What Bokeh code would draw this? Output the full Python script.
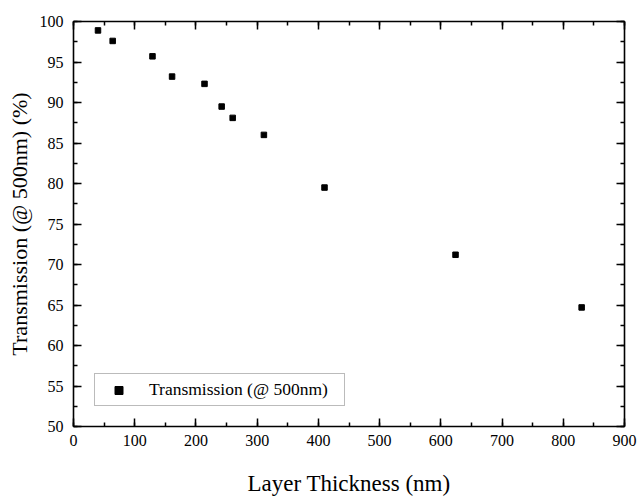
from bokeh.plotting import figure
from bokeh.models import (Range1d, LinearAxis, SingleIntervalTicker, Legend,
                          LegendItem, ColumnDataSource)
from bokeh.embed import file_html
from bokeh.resources import INLINE

# Layer thickness (nm) and optical transmission at 500 nm (%)
thickness_nm = [40, 64, 129, 161, 214, 242, 260, 311, 410, 624, 830]
transmission_pct = [98.9, 97.6, 95.7, 93.2, 92.3, 89.5, 88.1, 86.0, 79.5, 71.2, 64.7]

FONT = "Liberation Serif"

src = ColumnDataSource(dict(x=thickness_nm, y=transmission_pct))

p = figure(width=638, height=500, output_backend="svg", toolbar_location=None,
           x_range=Range1d(0, 900), y_range=Range1d(50, 100),
           min_border_left=73, min_border_right=14, min_border_top=21,
           min_border_bottom=74, x_axis_type=None, y_axis_type=None)
p.xgrid.visible = False
p.ygrid.visible = False
p.outline_line_color = None
p.background_fill_color = "white"
p.border_fill_color = "white"


def style_axis(ax, labels=True):
    ax.axis_line_width = 1.6
    ax.axis_line_color = "black"
    ax.major_tick_in = 8
    ax.major_tick_out = 0
    ax.minor_tick_in = 4
    ax.minor_tick_out = 0
    ax.major_tick_line_width = 1.5
    ax.minor_tick_line_width = 1.5
    ax.major_label_text_font = FONT
    ax.major_label_text_font_size = "16px"
    ax.major_label_text_color = "black"
    ax.axis_label_text_font = FONT
    ax.axis_label_text_font_style = "normal"
    ax.axis_label_text_color = "black"
    if not labels:
        ax.major_label_text_font_size = "0px"
        ax.major_label_text_color = None


xt = SingleIntervalTicker(interval=100, num_minor_ticks=2)
yt = SingleIntervalTicker(interval=5, num_minor_ticks=2)

xb = LinearAxis(ticker=xt, axis_label="Layer Thickness (nm)")
style_axis(xb)
xb.axis_label_text_font_size = "23px"
xb.major_label_standoff = 8
xb.axis_label_standoff = 22
p.add_layout(xb, "below")

yl = LinearAxis(ticker=yt, axis_label="Transmission (@ 500nm) (%)")
style_axis(yl)
yl.axis_label_text_font_size = "22px"
yl.major_label_standoff = 10
yl.axis_label_standoff = 5
p.add_layout(yl, "left")

xa = LinearAxis(ticker=SingleIntervalTicker(interval=100, num_minor_ticks=2))
style_axis(xa, labels=False)
p.add_layout(xa, "above")

yr = LinearAxis(ticker=SingleIntervalTicker(interval=5, num_minor_ticks=2))
style_axis(yr, labels=False)
p.add_layout(yr, "right")

r = p.scatter("x", "y", source=src, marker="square", size=5.5,
              fill_color="black", line_color="black")

legend = Legend(items=[LegendItem(label="Transmission (@ 500nm)", renderers=[r])],
                location=(21, 20))
legend.label_text_font = FONT
legend.label_text_font_size = "17.5px"
legend.label_text_color = "black"
legend.border_line_color = "#777777"
legend.border_line_width = 1
legend.background_fill_color = "white"
legend.background_fill_alpha = 1.0
legend.padding = 5
legend.margin = 0
legend.glyph_width = 37
legend.glyph_height = 20
legend.label_height = 20
legend.label_standoff = 12
legend.label_width = 190
p.add_layout(legend, "center")

open("out.html", "w").write(file_html(p, INLINE))
